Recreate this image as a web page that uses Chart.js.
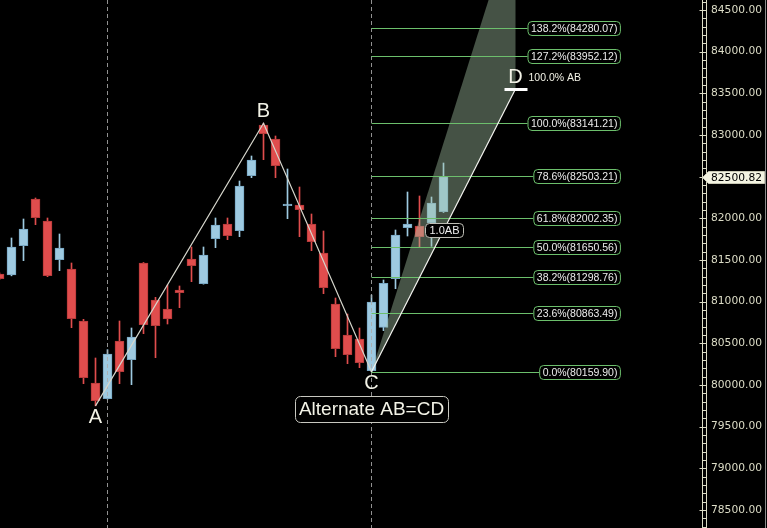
<!DOCTYPE html>
<html>
<head>
<meta charset="utf-8">
<script src="https://cdn.jsdelivr.net/npm/chart.js@4/dist/chart.umd.min.js"></script>
<style>
  html, body { margin: 0; padding: 0; background: #000; overflow: hidden; }
  canvas { display: block; }
</style>
</head>
<body>
<canvas id="chart" width="767" height="528"></canvas>
<script>
// bar index of the first candle (it is cut by the left edge)
const firstBar = -1;
const opens  = [81330, 81320, 81672, 82232, 81968, 81504, 81392, 80768, 80024, 79836, 80528, 80304, 81464, 81020, 80912, 81140, 81512, 81216, 81756, 81932, 81852, 82512, 83120, 82952, 82152, 82160, 81932, 81584, 80972, 80600, 80552, 80172, 80692, 81276, 81888, 81908, 81944, 82080];
const highs  = [81345, 81764, 81992, 82244, 82004, 81812, 81464, 80788, 80324, 80424, 80768, 80684, 81470, 81052, 81200, 81188, 81656, 81656, 82004, 82004, 82448, 82748, 83141.21, 82988, 82592, 82376, 82052, 81848, 81044, 80852, 80684, 81080, 81260, 81860, 82316, 82268, 82256, 82664];
const lows   = [81265, 81310, 81492, 81924, 81300, 81372, 80688, 80016, 79750, 79830, 80016, 80004, 80616, 80328, 80732, 80928, 81240, 81210, 81648, 81744, 81780, 82488, 82704, 82488, 81996, 81780, 81612, 81096, 80340, 80256, 80208, 80159.90, 80652, 81156, 81788, 81652, 81664, 82070];
const closes = [81275, 81656, 81872, 82008, 81312, 81644, 80796, 80088, 79812, 80372, 80160, 80576, 80724, 80712, 80792, 81108, 81432, 81560, 81920, 81792, 82388, 82700, 83016, 82632, 82172, 82104, 81720, 81168, 80436, 80364, 80268, 80996, 81220, 81800, 81932, 81780, 82184, 82500.82];

const yTicks = [78500, 79000, 79500, 80000, 80500, 81000, 81500, 82000, 82500, 83000, 83500, 84000, 84500];
const lastPrice = 82500.82;

// fibonacci levels drawn from C
const fibLabels = ['0.0%', '23.6%', '38.2%', '50.0%', '61.8%', '78.6%', '100.0%', '127.2%', '138.2%'];
const fibValues = [80159.90, 80863.49, 81298.76, 81650.56, 82002.35, 82503.21, 83141.21, 83952.12, 84280.07];

// AB=CD points: bar index of A, B, C, D
const patternNames = ['A', 'B', 'C', 'D'];
const patternBars = [7, 21, 30, 42];
const separators = [8, 30];
const patternTitle = 'Alternate AB=CD';
const coneRatio = 1.618;

const upColor = '#9ecae1', upBorder = '#77a7c4';
const downColor = '#e04d4d', downBorder = '#b63a3a';
const textColor = '#f2f2e6';
const axisColor = '#dcdcc6';

const xs = opens.map((_, i) => i + firstBar);
const isUp = closes.map((c, i) => c >= opens[i]);

// pattern prices
const A = lows[patternBars[0] - firstBar];
const B = highs[patternBars[1] - firstBar];
const C = lows[patternBars[2] - firstBar];
const D = C + (B - A);

function roundRect(ctx, x, y, w, h, r) {
    ctx.beginPath();
    ctx.moveTo(x + r, y);
    ctx.arcTo(x + w, y, x + w, y + h, r);
    ctx.arcTo(x + w, y + h, x, y + h, r);
    ctx.arcTo(x, y + h, x, y, r);
    ctx.arcTo(x, y, x + w, y, r);
    ctx.closePath();
}

const overlay = {
    id: 'overlay',
    beforeDraw(chart) {
        const ctx = chart.ctx;
        ctx.save();
        ctx.fillStyle = '#000';
        ctx.fillRect(0, 0, chart.width, chart.height);
        ctx.restore();
    },
    afterDatasetsDraw(chart) {
        const { ctx, chartArea: area, scales: { x, y } } = chart;
        ctx.save();
        ctx.beginPath();
        ctx.rect(area.left, area.top, area.right - area.left, area.bottom - area.top);
        ctx.clip();

        // session separators
        ctx.strokeStyle = 'rgba(170,170,170,0.85)';
        ctx.lineWidth = 1;
        ctx.setLineDash([4, 3]);
        separators.forEach(b => {
            const px = Math.round(x.getPixelForValue(b) - 0.5) + 0.5;
            ctx.beginPath();
            ctx.moveTo(px, area.top);
            ctx.lineTo(px, area.bottom);
            ctx.stroke();
        });
        ctx.setLineDash([]);

        const pa = { x: x.getPixelForValue(patternBars[0]), y: y.getPixelForValue(A) };
        const pb = { x: x.getPixelForValue(patternBars[1]), y: y.getPixelForValue(B) };
        const pc = { x: x.getPixelForValue(patternBars[2]), y: y.getPixelForValue(C) };
        const pd = { x: x.getPixelForValue(patternBars[3]), y: y.getPixelForValue(D) };

        // projection cone from C
        const coneTop = y.getPixelForValue(C + coneRatio * (D - C));
        ctx.fillStyle = 'rgba(165,195,165,0.42)';
        ctx.beginPath();
        ctx.moveTo(pc.x, pc.y);
        ctx.lineTo(pd.x, coneTop);
        ctx.lineTo(pd.x, pd.y);
        ctx.closePath();
        ctx.fill();

        // fibonacci lines and labels
        const labelRight = x.getPixelForValue(50.7);
        ctx.font = '10.5px "Liberation Sans", Arial, sans-serif';
        ctx.textBaseline = 'middle';
        fibValues.forEach((v, i) => {
            const py = Math.round(y.getPixelForValue(v)) + 0.5;
            const text = fibLabels[i] + '(' + v.toFixed(2) + ')';
            const w = ctx.measureText(text).width + 6;
            const left = labelRight - w;
            ctx.strokeStyle = '#6cbf6c';
            ctx.lineWidth = 1;
            ctx.beginPath();
            ctx.moveTo(pc.x, py);
            ctx.lineTo(left, py);
            ctx.stroke();
            roundRect(ctx, left + 0.5, py - 7, w, 14, 4);
            ctx.fillStyle = '#000';
            ctx.fill();
            ctx.stroke();
            ctx.fillStyle = '#ececec';
            ctx.textAlign = 'left';
            ctx.fillText(text, left + 3.5, py + 0.5);
        });

        // AB, BC and CD legs
        ctx.lineWidth = 1.2;
        ctx.strokeStyle = '#d6d6cc';
        ctx.beginPath();
        ctx.moveTo(pa.x, pa.y);
        ctx.lineTo(pb.x, pb.y);
        ctx.lineTo(pc.x, pc.y);
        ctx.stroke();
        ctx.strokeStyle = '#f4f4f0';
        ctx.beginPath();
        ctx.moveTo(pc.x, pc.y);
        ctx.lineTo(pd.x, pd.y);
        ctx.stroke();

        // D target mark
        ctx.fillStyle = '#ffffff';
        ctx.fillRect(pd.x - 11, Math.round(pd.y) - 1, 23, 3);

        // point names
        ctx.fillStyle = textColor;
        ctx.textAlign = 'center';
        ctx.font = '20px "Liberation Sans", Arial, sans-serif';
        ctx.fillText(patternNames[0], pa.x, pa.y + 12);
        ctx.fillText(patternNames[1], pb.x, pb.y - 12);
        ctx.fillText(patternNames[2], pc.x, pc.y + 12);
        ctx.fillText(patternNames[3], pd.x, pd.y - 12);

        ctx.font = '10.5px "Liberation Sans", Arial, sans-serif';
        ctx.textAlign = 'left';
        ctx.fillText('100.0% AB', pd.x + 13, pd.y - 11);

        // title box under C
        ctx.font = '19px "Liberation Sans", Arial, sans-serif';
        const tw = ctx.measureText(patternTitle).width + 8;
        const ty = pc.y + 37;
        roundRect(ctx, Math.round(pc.x - tw / 2) + 0.5, Math.round(ty - 13) + 0.5, Math.round(tw), 26, 5);
        ctx.fillStyle = '#000';
        ctx.fill();
        ctx.strokeStyle = '#c8c8c0';
        ctx.lineWidth = 1;
        ctx.stroke();
        ctx.fillStyle = textColor;
        ctx.textAlign = 'center';
        ctx.fillText(patternTitle, pc.x, ty + 1);

        // 1.0AB tag
        ctx.font = '11px "Liberation Sans", Arial, sans-serif';
        const abX = x.getPixelForValue(34.45);
        const abY = Math.round(y.getPixelForValue(81866));
        const abW = ctx.measureText('1.0AB').width + 8;
        roundRect(ctx, Math.round(abX) + 0.5, abY - 7 + 0.5, Math.round(abW), 14, 4);
        ctx.fillStyle = '#000';
        ctx.fill();
        ctx.strokeStyle = '#bdbdb5';
        ctx.stroke();
        ctx.fillStyle = '#eeeeee';
        ctx.textAlign = 'left';
        ctx.fillText('1.0AB', Math.round(abX) + 4.5, abY + 1);

        ctx.restore();
    },
    afterDraw(chart) {
        const { ctx, chartArea: area, scales: { y } } = chart;
        const ax = area.right + 0.5;
        ctx.save();
        ctx.strokeStyle = axisColor;
        ctx.lineWidth = 1;
        ctx.beginPath();
        ctx.moveTo(ax, 0);
        ctx.lineTo(ax, chart.height);
        ctx.moveTo(ax + 4, 0);
        ctx.lineTo(ax + 4, chart.height);
        // ruler: minor ticks every 100, longer ticks at the labels
        for (let v = Math.ceil(y.min / 100) * 100; v <= y.max; v += 100) {
            const py = Math.round(y.getPixelForValue(v)) + 0.5;
            const major = yTicks.includes(v);
            ctx.moveTo(major ? ax - 3 : ax, py);
            ctx.lineTo(ax + 4, py);
        }
        ctx.stroke();

        // last price tag
        const ly = Math.round(y.getPixelForValue(lastPrice)) + 0.5;
        ctx.beginPath();
        ctx.moveTo(ax, ly);
        ctx.lineTo(ax + 6, ly - 6);
        ctx.lineTo(764.5, ly - 6);
        ctx.lineTo(764.5, ly + 6);
        ctx.lineTo(ax + 6, ly + 6);
        ctx.closePath();
        ctx.fillStyle = '#f4f4e2';
        ctx.fill();
        ctx.strokeStyle = '#c8c8b4';
        ctx.stroke();
        ctx.fillStyle = '#000';
        ctx.font = '10.7px "DejaVu Sans", sans-serif';
        ctx.textBaseline = 'middle';
        ctx.textAlign = 'left';
        ctx.fillText(lastPrice.toFixed(2), area.right + 9, ly + 0.5);

        // right frame
        ctx.strokeStyle = '#8a8a8a';
        ctx.beginPath();
        ctx.moveTo(765.5, 0);
        ctx.lineTo(765.5, chart.height);
        ctx.stroke();
        ctx.restore();
    }
};

new Chart(document.getElementById('chart'), {
    type: 'bar',
    data: {
        datasets: [
            {
                label: 'wick',
                data: xs.map((b, i) => ({ x: b, y: [lows[i], highs[i]] })),
                backgroundColor: isUp.map(u => u ? upColor : downColor),
                borderWidth: 0,
                barThickness: 1,
                grouped: false,
                order: 2
            },
            {
                label: 'body',
                data: xs.map((b, i) => ({ x: b, y: [opens[i], closes[i]] })),
                backgroundColor: isUp.map(u => u ? upColor : downColor),
                borderColor: isUp.map(u => u ? upBorder : downBorder),
                borderWidth: 1,
                borderSkipped: false,
                barThickness: 9,
                grouped: false,
                order: 1
            }
        ]
    },
    options: {
        responsive: false,
        devicePixelRatio: 1,
        animation: false,
        layout: { padding: 0 },
        plugins: { legend: { display: false }, tooltip: { enabled: false } },
        scales: {
            x: {
                type: 'linear',
                display: false,
                offset: false,
                min: -11.5 / 12,
                max: -11.5 / 12 + 702 / 12
            },
            y: {
                position: 'right',
                min: 78284,
                max: 84620,
                afterFit: s => {
                    s.width = 65;
                    s.paddingTop = 0;
                    s.paddingBottom = 0;
                },
                afterBuildTicks: s => { s.ticks = yTicks.map(v => ({ value: v })); },
                grid: { display: false, drawTicks: false },
                border: { display: false },
                ticks: {
                    autoSkip: false,
                    padding: 9,
                    color: axisColor,
                    font: { family: 'DejaVu Sans', size: 10.7 },
                    callback: v => v.toFixed(2)
                }
            }
        }
    },
    plugins: [overlay]
});
</script>
</body>
</html>
